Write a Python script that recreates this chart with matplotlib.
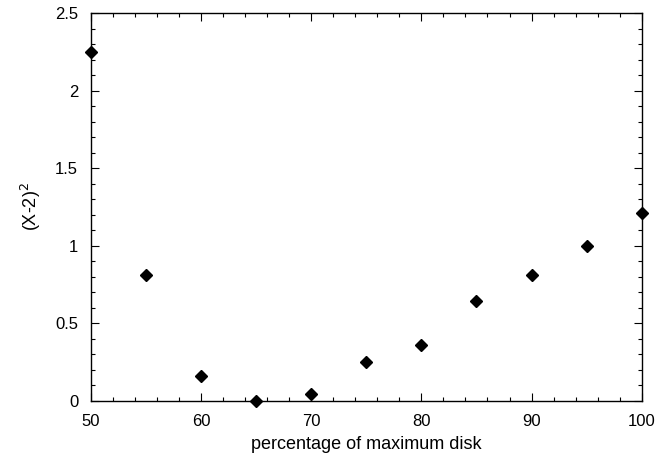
import numpy as np
import matplotlib
matplotlib.use("Agg")
from matplotlib import pyplot as plt
from matplotlib.ticker import MultipleLocator

# data
pct = [50, 55, 60, 65, 70, 75, 80, 85, 90, 95, 100]
sq_dev = [2.25, 0.81, 0.16, 0.0, 0.04, 0.25, 0.36, 0.64, 0.81, 1.0, 1.21]

plt.rcParams['font.family'] = ['Liberation Sans', 'DejaVu Sans']

fig = plt.figure(figsize = (6.72, 4.62), dpi = 100)
ax = fig.add_axes([0.135, 0.133, 0.82, 0.838])

ax.plot(pct, sq_dev, linestyle = 'none', marker = 'D', markersize = 6,
        color = 'black', clip_on = False, zorder = 5)

ax.set_xlim(50, 100)
ax.set_ylim(0, 2.5)
ax.xaxis.set_major_locator(MultipleLocator(10))
ax.xaxis.set_minor_locator(MultipleLocator(2))
ax.yaxis.set_major_locator(MultipleLocator(0.5))
ax.yaxis.set_minor_locator(MultipleLocator(0.1))
ax.set_yticks([0, 0.5, 1, 1.5, 2, 2.5], ['0', '0.5', '1', '1.5', '2', '2.5'])

ax.tick_params(which = 'both', direction = 'in', top = True, right = True,
               labelsize = 12, width = 0.8)
ax.tick_params(axis = 'x', pad = 10)
ax.tick_params(axis = 'y', pad = 9)
ax.tick_params(which = 'major', length = 6)
ax.tick_params(which = 'minor', length = 3)
for s in ax.spines.values():
    s.set_linewidth(1.0)

ax.set_xlabel('percentage of maximum disk', fontsize = 13, labelpad = 5)
ax.set_ylabel('(X-2)$^2$', fontsize = 13, labelpad = 9)

plt.savefig('out.png', dpi = 100)
